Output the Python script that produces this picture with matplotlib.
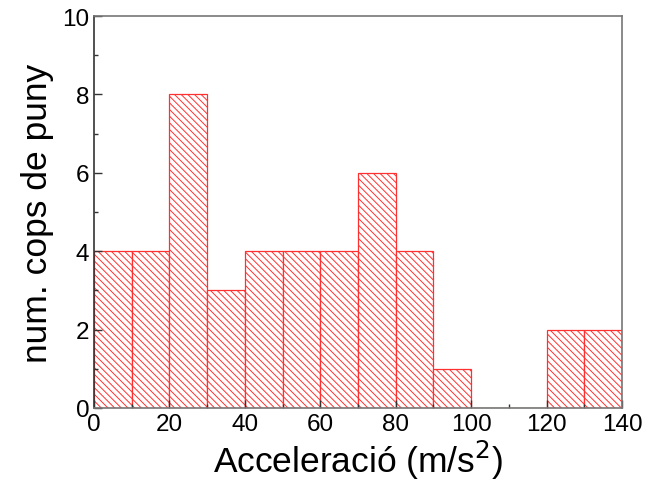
import matplotlib
matplotlib.use("Agg")
import matplotlib.pyplot as plt
from matplotlib.ticker import MultipleLocator

# histogram of peak accelerations, 10 m/s^2 bins
bin_edges = [0, 10, 20, 30, 40, 50, 60, 70, 80, 90, 100, 110, 120, 130, 140]
counts = [4, 4, 8, 3, 4, 4, 4, 6, 4, 1, 0, 0, 2, 2]

plt.rcParams.update({
    "font.family": ["Liberation Sans", "DejaVu Sans"],
    "hatch.color": "#ff4d4d",
    "hatch.linewidth": 0.7,
})

fig = plt.figure(figsize=(6.58, 4.89), dpi=100)
ax = fig.add_axes([94 / 658, 1 - 409 / 489, (622 - 94) / 658, (409 - 17) / 489])

lefts = bin_edges[:-1]
widths = [b - a for a, b in zip(bin_edges[:-1], bin_edges[1:])]
ax.bar(lefts, counts, width=widths, align="edge",
       facecolor="white", edgecolor="#ff3030", hatch="\\\\\\\\\\",
       linewidth=0.9)

ax.set_xlim(0, 140)
ax.set_ylim(0, 10)
ax.xaxis.set_major_locator(MultipleLocator(20))
ax.xaxis.set_minor_locator(MultipleLocator(10))
ax.yaxis.set_major_locator(MultipleLocator(2))
ax.yaxis.set_minor_locator(MultipleLocator(1))
ax.tick_params(which="both", direction="in", top=False, right=False,
               labelsize=17.5, width=1.0, color="#333333")
ax.tick_params(which="major", length=6)
ax.tick_params(which="minor", length=3)

for sp in ax.spines.values():
    sp.set_color("#777777")
    sp.set_linewidth(1.2)
ax.spines["left"].set_color("#333333")

ax.set_xlabel("Acceleració (m/s$^2$)", fontsize=25.5, labelpad=2)
ax.set_ylabel("num. cops de puny", fontsize=25.5, labelpad=6)

fig.savefig("out.png", dpi=100)
